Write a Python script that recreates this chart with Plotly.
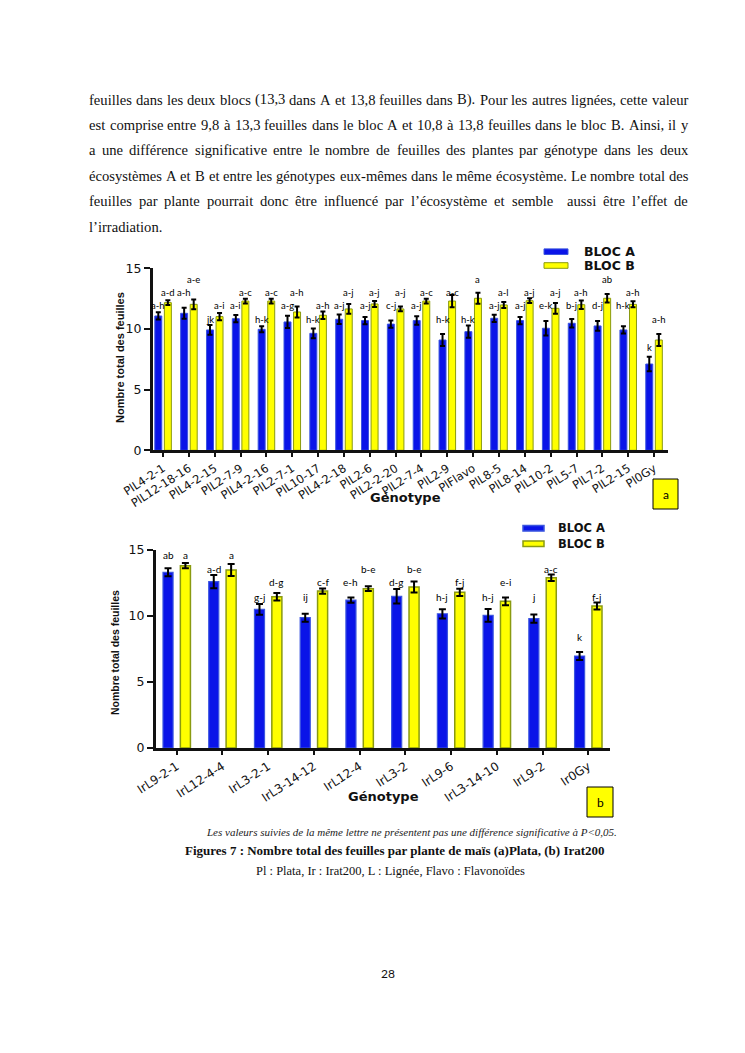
import plotly.graph_objects as go

# page is 745 x 1053; the html body adds an 8px margin, so the figure itself is 16px smaller
PAGE_W, PAGE_H = 745, 1053
BODY = 8
W, H = PAGE_W - 2 * BODY, PAGE_H - 2 * BODY

# ---------------- data : figure (a) Plata ----------------
geno_a = ["PlL4-2-1", "PlL12-18-16", "PlL4-2-15", "PlL2-7-9", "PlL4-2-16", "PlL2-7-1",
          "PlL10-17", "PlL4-2-18", "PlL2-6", "PlL2-2-20", "PlL2-7-4", "PlL2-9", "PlFlavo",
          "PlL8-5", "PlL8-14", "PlL10-2", "PlL5-7", "PlL7-2", "PlL2-15", "Pl0Gy"]
blocA_a = [11.07, 11.29, 9.92, 10.85, 9.97, 10.58, 9.64, 10.80, 10.69, 10.40,
           10.69, 9.09, 9.78, 10.88, 10.69, 10.06, 10.47, 10.25, 9.92, 7.11]
errA_a = [0.30, 0.45, 0.40, 0.30, 0.25, 0.50, 0.40, 0.40, 0.30, 0.30,
          0.35, 0.50, 0.50, 0.30, 0.30, 0.60, 0.35, 0.40, 0.30, 0.60]
blocB_a = [12.17, 12.03, 11.02, 12.30, 12.30, 11.40, 11.13, 11.65, 12.06, 11.65,
           12.30, 12.30, 12.53, 11.98, 12.33, 11.70, 12.00, 12.53, 12.03, 9.09]
errB_a = [0.20, 0.40, 0.30, 0.20, 0.20, 0.45, 0.30, 0.40, 0.25, 0.20,
          0.20, 0.50, 0.45, 0.25, 0.20, 0.45, 0.35, 0.35, 0.25, 0.50]
lettA_a = ["a-h", "a-h", "jk", "a-i", "h-k", "a-g", "h-k", "a-j", "a-j", "c-j",
           "a-j", "h-k", "h-k", "a-j", "a-j", "e-k", "b-j", "d-j", "h-k", "k"]
lettB_a = ["a-d", "a-e", "a-i", "a-c", "a-c", "a-h", "a-h", "a-j", "a-j", "a-j",
           "a-c", "a-c", "a", "a-l", "a-j", "a-j", "a-h", "ab", "a-h", "a-h"]

# ---------------- data : figure (b) Irat200 ----------------
geno_b = ["IrL9-2-1", "IrL12-4-4", "IrL3-2-1", "IrL3-14-12", "IrL12-4", "IrL3-2",
          "IrL9-6", "IrL3-14-10", "IrL9-2", "Ir0Gy"]
blocA_b = [13.31, 12.60, 10.50, 9.87, 11.21, 11.49, 10.17, 10.05, 9.80, 6.97]
errA_b = [0.30, 0.50, 0.40, 0.30, 0.20, 0.55, 0.35, 0.48, 0.32, 0.30]
blocB_b = [13.81, 13.48, 11.46, 11.89, 12.07, 12.20, 11.79, 11.11, 12.90, 10.76]
errB_b = [0.20, 0.45, 0.28, 0.20, 0.18, 0.42, 0.28, 0.30, 0.25, 0.27]
lettA_b = ["ab", "a-d", "g-j", "ij", "e-h", "d-g", "h-j", "h-j", "j", "k"]
lettB_b = ["a", "a", "d-g", "c-f", "b-e", "b-e", "f-j", "e-i", "a-c", "f-j"]

series_names = ["BLOC A", "BLOC B"]

# ---------------- page text ----------------
para_lines = [
    "feuilles dans les deux blocs (13,3 dans A et 13,8 feuilles dans B). Pour les autres lignées, cette valeur",
    "est comprise entre 9,8 à 13,3 feuilles dans le bloc A et 10,8 à 13,8 feuilles dans le bloc B. Ainsi, il y",
    "a une différence significative entre le nombre de feuilles des plantes par génotype dans les deux",
    "écosystèmes A et B et entre les génotypes eux-mêmes dans le même écosystème. Le nombre total des",
    "feuilles par plante pourrait donc être influencé par l’écosystème et semble  aussi être l’effet de",
    "l’irradiation.",
]
note_text = "Les valeurs suivies de la même lettre ne présentent pas une différence significative à P<0,05."
fig_title = "Figures 7 : Nombre total des feuilles par plante de maïs (a)Plata, (b) Irat200"
abbr_text = "Pl : Plata, Ir : Irat200, L : Lignée, Flavo : Flavonoïdes"
page_no = "28"
ytitle = "Nombre total des feuilles"
xtitle = "Génotype"

# label rows (vertical text positions of the significance letters, in axis units)
rowA_a = [11.9, 13.0, 10.8, 11.9, 10.8, 11.9, 10.8, 11.9, 11.9, 11.9,
          11.9, 10.8, 10.8, 11.9, 11.9, 11.9, 11.9, 11.9, 11.9, 8.5]
rowB_a = [13.0, 14.1, 11.9, 13.0, 13.0, 13.0, 11.9, 13.0, 13.0, 13.0,
          13.0, 13.0, 14.1, 13.0, 13.0, 13.0, 13.0, 14.1, 13.0, 10.8]
rowA_b = [14.62, 13.56, 11.44, 11.44, 12.55, 12.55, 11.44, 11.44, 11.44, 8.43]
rowB_b = [14.62, 14.62, 12.55, 12.55, 13.56, 13.56, 12.55, 12.55, 13.56, 11.44]

# ---------------- styles ----------------
BLUE, BLUE_EDGE = "#0a14e8", "#3b55e0"
YEL, YEL_EDGE = "#ffff00", "#8a9a10"
SERIF = "Liberation Serif, Times New Roman, serif"
SANS = "DejaVu Sans, Liberation Sans, sans-serif"
ARIAL = "Liberation Sans, Arial, sans-serif"
LETF = "Lato, Carlito, sans-serif"


def px(x):
    """page pixel x -> paper fraction"""
    return (x - BODY) / W


def py(y):
    """page pixel y -> paper fraction"""
    return 1 - (y - BODY) / H


fig = go.Figure()

# geometry of bars (category units)
wa, offA_a, offB_a = 0.27, -0.32, 0.05
wb, offA_b, offB_b = 0.22, -0.30, 0.08


def bar(x, y, e, color, edge, lw, width, offset, xa, ya, name, ew):
    return go.Bar(x=x, y=y, name=name, width=width, offset=offset,
                  marker=dict(color=color, line=dict(color=edge, width=lw)),
                  error_y=dict(type="data", array=e, color="black", thickness=2, width=ew),
                  xaxis=xa, yaxis=ya, showlegend=False)


fig.add_trace(bar(geno_a, blocA_a, errA_a, BLUE, BLUE_EDGE, 1, wa, offA_a, "x", "y", series_names[0], 2.5))
fig.add_trace(bar(geno_a, blocB_a, errB_a, YEL, YEL_EDGE, 1, wa, offB_a, "x", "y", series_names[1], 2.5))
fig.add_trace(bar(geno_b, blocA_b, errA_b, BLUE, BLUE_EDGE, 1.2, wb, offA_b, "x2", "y2", series_names[0], 3.5))
fig.add_trace(bar(geno_b, blocB_b, errB_b, YEL, YEL_EDGE, 1.5, wb, offB_b, "x2", "y2", series_names[1], 3.5))

annotations = []


# significance letters
def letters(lett, rows, off, w, xr, yr, size):
    for i, (t, r) in enumerate(zip(lett, rows)):
        annotations.append(dict(x=i + off + w / 2, y=r, xref=xr, yref=yr, text=t,
                                showarrow=False, font=dict(family=LETF, size=size, color="black"),
                                xanchor="center", yanchor="middle"))


letters(lettA_a, rowA_a, offA_a, wa, "x", "y", 9.5)
letters(lettB_a, rowB_a, offB_a, wa, "x", "y", 9.5)
letters(lettA_b, rowA_b, offA_b, wb, "x2", "y2", 10)
letters(lettB_b, rowB_b, offB_b, wb, "x2", "y2", 10)

axis_common = dict(showline=True, linecolor="#111", showgrid=False, zeroline=False,
                   ticks="outside", tickcolor="#111", tickwidth=2, automargin=False)

fig.update_layout(
    template="none",
    width=W, height=H, margin=dict(l=0, r=0, t=0, b=0, pad=0), autosize=False,
    paper_bgcolor="white", plot_bgcolor="rgba(0,0,0,0)", barmode="overlay",
    xaxis=dict(domain=[px(153), px(668)], anchor="y", type="category", range=[-0.39, 19.54],
               linewidth=3, ticklen=4, tickangle=-33,
               tickfont=dict(family=SANS, size=11.5, color="#111"), **axis_common),
    yaxis=dict(domain=[py(450.3), py(268.3)], anchor="x", range=[0, 15], tickvals=[0, 5, 10, 15],
               linewidth=3, ticklen=6,
               tickfont=dict(family=SANS, size=12.5, color="#111"), **axis_common),
    xaxis2=dict(domain=[px(156), px(610)], anchor="y2", type="category", range=[-0.453, 9.475],
                linewidth=3, ticklen=4, tickangle=-33,
                tickfont=dict(family=SANS, size=12, color="#111"), **axis_common),
    yaxis2=dict(domain=[py(748), py(550)], anchor="x2", range=[0, 15], tickvals=[0, 5, 10, 15],
                linewidth=3, ticklen=6,
                tickfont=dict(family=SANS, size=12.5, color="#111"), **axis_common),
)

# axis titles
for (x, y, size) in [(112, 358, 11), (107, 653, 10.5)]:
    annotations.append(dict(x=px(x), y=py(y), xref="paper", yref="paper", text="<b>" + ytitle + "</b>",
                            textangle=-90, showarrow=False,
                            font=dict(family=ARIAL, size=size, color="#111")))
for (x, y) in [(405, 498), (384, 806)]:
    annotations.append(dict(x=px(x), y=py(y), xref="paper", yref="paper", text="<b>" + xtitle + "</b>",
                            showarrow=False, font=dict(family=SANS, size=13, color="#111")))

# legends (drawn)
shapes = []
for (sx0, sx1, ys, tx, size, lw) in [(544, 568, (251.7, 265.5), 582, 12.5, 1),
                                     (523, 544, (528.3, 543.7), 556, 11.5, 1.5)]:
    for k, yy in enumerate(ys):
        col, edge = (BLUE, BLUE_EDGE) if k == 0 else (YEL, YEL_EDGE)
        shapes.append(dict(type="rect", xref="paper", yref="paper", x0=px(sx0), x1=px(sx1),
                           y0=py(yy + 2.8), y1=py(yy - 2.8), fillcolor=col,
                           line=dict(color=edge, width=lw)))
        annotations.append(dict(x=px(tx), y=py(yy), xref="paper", yref="paper",
                                text="<b>" + series_names[k] + "</b>", showarrow=False,
                                xanchor="left", yanchor="middle",
                                font=dict(family=SANS, size=size, color="#111")))

# panel letter boxes
for (x0, x1, y0, y1, t) in [(653, 678, 479, 509, "a"), (587, 613, 787, 817, "b")]:
    shapes.append(dict(type="rect", xref="paper", yref="paper", x0=px(x0), x1=px(x1),
                       y0=py(y1), y1=py(y0), fillcolor=YEL, line=dict(color="black", width=1)))
    annotations.append(dict(x=px((x0 + x1) / 2), y=py((y0 + y1) / 2), xref="paper", yref="paper",
                            text=t, showarrow=False, xanchor="center", yanchor="middle",
                            font=dict(family=LETF, size=12, color="black")))

# ---------------- justified paragraph ----------------
TW = {}
for ch, w in zip("abcdefghijklmnopqrstuvwxyz",
                 [444, 500, 444, 500, 444, 333, 500, 500, 278, 278, 500, 278, 778, 500, 500, 500, 500,
                  333, 389, 278, 500, 500, 722, 500, 500, 444]):
    TW[ch] = w
for ch, w in zip("ABCDEFGHIJKLMNOPQRSTUVWXYZ",
                 [722, 667, 667, 722, 611, 556, 722, 722, 333, 389, 722, 611, 889, 722, 722, 556, 722,
                  667, 556, 611, 722, 722, 944, 722, 722, 611]):
    TW[ch] = w
for ch in "éèêëàâç":
    TW[ch] = 444
for ch in "îï":
    TW[ch] = 278
for ch in "ôùû":
    TW[ch] = 500
for ch in "0123456789":
    TW[ch] = 500
TW.update({" ": 250, ",": 250, ".": 250, "(": 333, ")": 333, "-": 333, "’": 333, ":": 278})

PFS = 14.6
LEFT, RIGHT = 88, 687
line_y0, line_dy = 99.5, 25.4


def tw(s):
    return sum(TW.get(c, 500) for c in s) / 1000 * PFS


for li, line in enumerate(para_lines):
    yline = line_y0 + li * line_dy
    toks = line.split(" ")
    if li == len(para_lines) - 1:
        gap = TW[" "] / 1000 * PFS
    else:
        gap = (RIGHT - LEFT - sum(tw(t) for t in toks)) / (len(toks) - 1)
    xcur = LEFT
    for t in toks:
        if t:
            annotations.append(dict(x=px(xcur - 1), y=py(yline), xref="paper", yref="paper", text=t,
                                    showarrow=False, xanchor="left", yanchor="middle",
                                    font=dict(family=SERIF, size=PFS, color="#111")))
        xcur += tw(t) + gap

# captions
annotations.append(dict(x=px(412), y=py(840), xref="paper", yref="paper", text="<i>" + note_text + "</i>",
                        showarrow=False, font=dict(family=SERIF, size=11, color="#222")))
annotations.append(dict(x=px(394.5), y=py(860), xref="paper", yref="paper", text="<b>" + fig_title + "</b>",
                        showarrow=False, font=dict(family=SERIF, size=13, color="#111")))
annotations.append(dict(x=px(390.5), y=py(880), xref="paper", yref="paper", text=abbr_text,
                        showarrow=False, font=dict(family=SERIF, size=12.5, color="#111")))
annotations.append(dict(x=px(388), y=py(983), xref="paper", yref="paper", text=page_no,
                        showarrow=False, font=dict(family=LETF, size=12, color="#111")))

fig.update_layout(annotations=annotations, shapes=shapes)
fig.write_html("out.html")
